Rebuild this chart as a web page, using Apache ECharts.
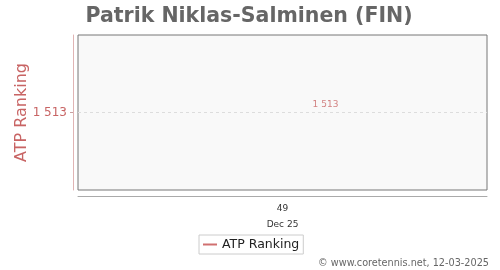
<!DOCTYPE html>
<html><head><meta charset="utf-8">
<script src="https://cdn.jsdelivr.net/npm/echarts@6/dist/echarts.min.js"></script>
<style>html,body{margin:0;padding:0;background:#fff}#c{width:500px;height:270px}</style>
</head><body><div id="c"></div>
<script>
const categories = ['49'];
const periodLabels = ['Dec 25'];
const rankingValues = [1513];
const yTickValues = [1513];

function fmt(v){return String(v).replace(/\B(?=(\d{3})+(?!\d))/g,' ');}

const chart = echarts.init(document.getElementById('c'), null, {renderer:'canvas'});
chart.setOption({
  animation:false,
  textStyle:{fontFamily:'DejaVu Sans'},
  title:{text:'Patrik Niklas-Salminen (FIN)',left:244,textAlign:'center',top:1,
    textStyle:{fontFamily:'DejaVu Sans',fontWeight:'bold',fontSize:20.5,color:'#666'}},
  grid:{left:78,right:13,top:35,bottom:80,outerBoundsMode:'none',containLabel:false,show:true,backgroundColor:'#f9f9f9',borderColor:'#777',borderWidth:1},
  legend:{left:199,top:235,padding:[3,4,3,4],borderColor:'#ccc',borderWidth:1,borderRadius:0,
    itemWidth:14,itemHeight:2,itemGap:5,
    textStyle:{fontFamily:'DejaVu Sans',fontSize:12.5,color:'#222'},
    data:[{name:'ATP Ranking',icon:'rect'}]},
  xAxis:{type:'category',data:categories,boundaryGap:true,offset:6,
    axisLine:{lineStyle:{color:'#aaa'}},axisTick:{show:false},
    axisLabel:{margin:5,formatter:(v,i)=>'{a|'+v+'}\n{b|'+periodLabels[i]+'}',
      rich:{a:{fontSize:9,color:'#333',lineHeight:16,fontFamily:'DejaVu Sans'},b:{fontSize:9,color:'#333',lineHeight:16,fontFamily:'DejaVu Sans'}}},
    splitLine:{show:false}},
  yAxis:{type:'value',min:1512,max:1514,interval:1,offset:5,
    name:'ATP Ranking',nameLocation:'middle',nameGap:43,nameMoveOverlap:false,
    nameTextStyle:{fontFamily:'DejaVu Sans',fontSize:16,color:'#c86464'},
    axisLine:{show:true,lineStyle:{color:'#e0b4b4'}},
    axisTick:{show:true,length:3,customValues:yTickValues,lineStyle:{color:'#c8a0a0'}},
    axisLabel:{customValues:yTickValues,formatter:v=>fmt(v),margin:6,fontSize:12,color:'#c86464',fontFamily:'DejaVu Sans'},
    splitLine:{show:false}},
  series:[{name:'ATP Ranking',type:'line',data:rankingValues,symbol:'none',
    color:'#d07070',lineStyle:{color:'#d07070',width:2},
    markLine:{silent:true,symbol:'none',label:{show:false},
      lineStyle:{color:'#ddd',type:[3,3],width:1},data:[{yAxis:rankingValues[0]}]}},
    {name:'lbl',type:'scatter',data:rankingValues,symbolSize:2,itemStyle:{color:'rgba(0,0,0,0)'},
    label:{show:true,position:'top',distance:2,offset:[43,0],formatter:p=>fmt(p.value),fontSize:9,color:'#c86464',fontFamily:'DejaVu Sans'}}],
  graphic:[{type:'text',right:11,top:258,style:{text:'© www.coretennis.net, 12-03-2025',fontFamily:'DejaVu Sans',fontSize:9.7,fill:'#666',textAlign:'right'}}]
});
</script></body></html>
